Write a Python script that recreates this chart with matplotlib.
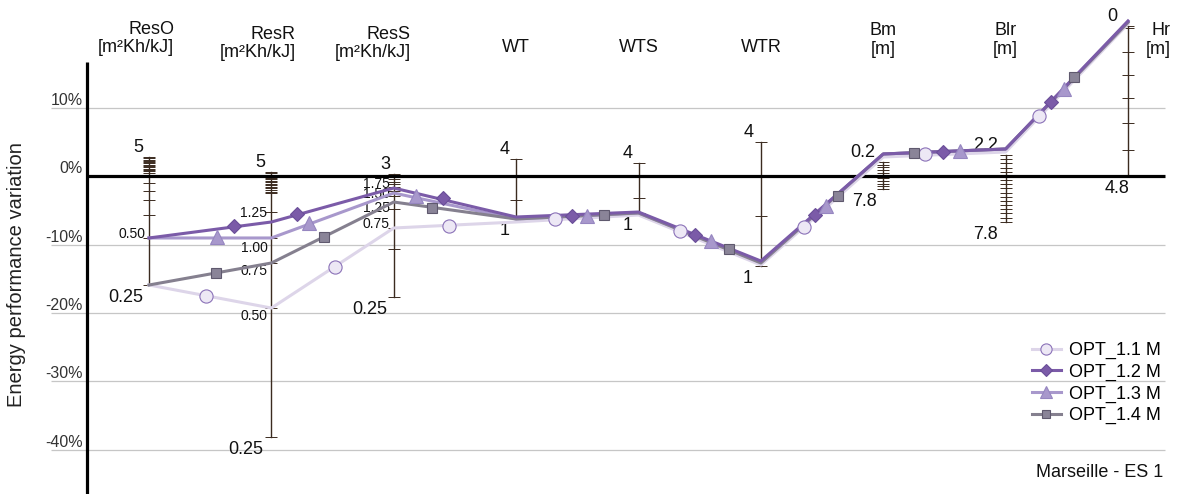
import numpy as np
import matplotlib.pyplot as plt
from matplotlib.lines import Line2D

plt.rcParams['font.family'] = ['Liberation Sans', 'DejaVu Sans']

# one vertical axis per parameter
params = ['ResO', 'ResR', 'ResS', 'WT', 'WTS', 'WTR', 'Bm', 'Blr', 'Hr']
units = ['[m²Kh/kJ]', '[m²Kh/kJ]', '[m²Kh/kJ]', '', '', '', '[m]', '[m]', '[m]']
top_lbl = ['5', '5', '3', '4', '4', '4', '0.2', '2.2', '0']
bot_lbl = ['0.25', '0.25', '0.25', '1', '1', '1', '7.8', '7.8', '4.8']

# tick positions on the parameter axes (energy performance variation, %)
ticks_reso = [2.81, 2.62, 2.43, 2.24, 2.05, 1.86, 1.67, 1.48, 1.29, 1.10, 0.91, 0.72, 0.53,
              0.18, -0.99, -2.16, -3.48, -5.68, -9.0, -15.92]
ticks_resr = [0.61, 0.40, 0.18, -0.04, -0.26, -0.48, -0.70, -0.92, -1.14, -1.36, -1.58, -1.80,
              -2.02, -2.24, -2.46, -5.24, -9.04, -12.70, -19.29, -38.16]
ticks_ress = [0.32, -0.04, -0.41, -0.78, -1.14, -1.58, -2.17, -2.90, -4.80, -7.58, -10.65, -17.68]
ticks_wt = [2.52, -3.48, -6.1]
ticks_wts = [1.93, -3.19, -5.38]
ticks_wtr = [5.0, -5.82, -13.14]
ticks_bm = [2.08, 1.68, 1.29, 0.89, 0.50, 0.10, -0.29, -0.69, -1.08, -1.48, -1.87]
ticks_blr = [3.10, 2.49, 1.89, 1.27, 0.66, 0.04, -0.56, -1.17, -1.79, -2.39, -3.00, -3.61,
             -4.21, -4.83, -5.44, -6.06, -6.66]
ticks_hr = [22.0, 21.69, 18.17, 14.81, 11.44, 7.78, 3.83, 0.0]
param_ticks = [ticks_reso, ticks_resr, ticks_ress, ticks_wt, ticks_wts, ticks_wtr,
               ticks_bm, ticks_blr, ticks_hr]

# intermediate value labels on the resistance axes
mid_reso = [('0.50', -8.46)]
mid_resr = [('1.25', -5.38), ('1.00', -10.51), ('0.75', -13.87), ('0.50', -20.46)]
mid_ress = [('1.75', -1.14), ('1.50', -2.60), ('1.25', -4.65), ('0.75', -6.99)]
mid_lbls = [mid_reso, mid_resr, mid_ress]

# series values at each parameter axis
series_names = ['OPT_1.1 M', 'OPT_1.2 M', 'OPT_1.3 M', 'OPT_1.4 M']
opt11 = [-15.92, -19.29, -7.58, -6.70, -5.68, -12.99, 2.81, 3.54, 22.27]
opt12 = [-9.04, -6.70, -1.73, -5.97, -5.24, -12.41, 3.25, 3.98, 22.71]
opt13 = [-9.04, -9.04, -2.46, -6.26, -5.38, -12.55, 3.25, 3.98, 22.60]
opt14 = [-15.92, -12.70, -3.78, -6.26, -5.38, -12.70, 3.25, 3.98, 22.50]
series_vals = [opt11, opt12, opt13, opt14]

# marker positions along each curve (x in parameter-axis units)
opt11_mx = [0.466, 1.520, 2.452, 3.318, 4.340, 5.353, 6.342, 7.274]
opt11_my = [-17.53, -13.29, -7.3, -6.3, -8.0, -7.43, 3.2, 8.81]
opt12_mx = [0.695, 1.209, 2.402, 3.457, 4.462, 5.442, 6.488, 7.371]
opt12_my = [-7.35, -5.55, -3.2, -5.8, -8.58, -5.7, 3.58, 10.8]
opt13_mx = [0.556, 1.307, 2.182, 3.579, 4.592, 5.532, 6.627, 7.477]
opt13_my = [-8.95, -6.9, -2.95, -5.8, -9.55, -4.3, 3.75, 12.8]
opt14_mx = [0.547, 1.430, 2.313, 3.718, 4.740, 5.630, 6.251, 7.559]
opt14_my = [-14.1, -8.95, -4.6, -5.7, -10.65, -2.85, 3.4, 14.5]
marker_x = [opt11_mx, opt12_mx, opt13_mx, opt14_mx]
marker_y = [opt11_my, opt12_my, opt13_my, opt14_my]

line_cols = ['#ddd5e9', '#7b5ba8', '#a898cc', '#85808f']
face_cols = ['#ede8f5', '#7b5ba8', '#a898cc', '#8a8498']
edge_cols = ['#8b72b8', '#6a4e98', '#9686c0', '#5f596e']
markers = ['o', 'D', '^', 's']
msizes = [9.5, 7.0, 10, 7.5]
zorders = [5, 8, 6, 7]
axis_col = '#3b2b20'

fig = plt.figure(figsize=(11.78, 4.94), dpi=100)
ax = fig.add_axes([0, 0, 1, 1])
# axes fill the figure: ~122.4 px per parameter, ~6.83 px per %
ax.set_xlim(-1.2176, 8.4086)
ax.set_ylim(-46.5, 25.78)
ax.axis('off')

# value axis
ax.hlines([10, -10, -20, -30, -40], -0.80, 8.30, color='#c6c6c6', lw=0.9, zorder=1)
ax.hlines(0, -0.507, 8.30, color='black', lw=2.3, zorder=4)
ax.plot([-0.507, -0.507], [16.7, -46.5], color='black', lw=2.3, zorder=4, solid_capstyle='butt')
for v in [10, 0, -10, -20, -30, -40]:
    ax.annotate(f'{v}%', (-0.54, v), xytext=(0, 0), textcoords='offset pixels',
                ha='right', va='bottom', fontsize=11.5, color='#333333')
ax.text(-1.08, -14.4, 'Energy performance variation', rotation=90, ha='center', va='center',
        fontsize=14.5, color='#222222')

# parameter axes
header_dx = [25, 24, 17, 0, 0, 0, 0, 0, 43]
header_ha = ['right', 'right', 'right', 'center', 'center', 'center', 'center', 'center', 'right']
header_y = [37.5, 42.5, 42.5, 47, 47, 47, 39, 39, 39]
top_dx = [-6, -6, -3, -7, -6, -7, -8, -8, -11]
bot_dx = [-6, -8, -7, -7, -6, -8, -6, -8, 2]
for i, tk in enumerate(param_ticks):
    ax.plot([i, i], [min(tk), max(tk)], color=axis_col, lw=1.0, zorder=3)
    ax.plot([i] * len(tk), tk, ls='none', marker='_', ms=8.6, mew=0.7, color=axis_col, zorder=3)
    ax.annotate(top_lbl[i], (i, max(tk)), xytext=(top_dx[i], 1), textcoords='offset pixels',
                ha='right', va='bottom', fontsize=13, color='#111111')
    ax.annotate(bot_lbl[i], (i, min(tk)), xytext=(bot_dx[i], -4), textcoords='offset pixels',
                ha='right', va='top', fontsize=13, color='#111111')
    head = params[i] if units[i] == '' else params[i] + '\n' + units[i]
    ax.annotate(head, (i, 1 - header_y[i] / 494), xycoords=ax.get_xaxis_transform(),
                xytext=(header_dx[i], -1), textcoords='offset pixels',
                ha=header_ha[i], va='center', multialignment=header_ha[i],
                fontsize=13, linespacing=1.1, color='#111111')

for i, lbls in enumerate(mid_lbls):
    for txt, v in lbls:
        ax.annotate(txt, (i, v), xytext=(-4, 0), textcoords='offset pixels',
                    ha='right', va='center', fontsize=10, color='#111111')

# series
handles = []
for k in range(4):
    ax.plot(range(len(params)), series_vals[k], color=line_cols[k], lw=2.2,
            zorder=zorders[k], solid_joinstyle='round')
    ax.plot(marker_x[k], marker_y[k], ls='none', marker=markers[k], ms=msizes[k],
            mfc=face_cols[k], mec=edge_cols[k], mew=0.8, zorder=10 + k)
    handles.append(Line2D([], [], color=line_cols[k], lw=2.2, marker=markers[k],
                          ms=msizes[k] * 0.85, mfc=face_cols[k], mec=edge_cols[k], mew=0.8,
                          label=series_names[k]))

ax.legend(handles=handles, loc='upper left', bbox_to_anchor=(1032 / 1178, 1 - 342 / 494),
          frameon=False, fontsize=13, handlelength=1.6, handletextpad=0.45,
          labelspacing=0.25, borderpad=0, borderaxespad=0)

ax.text(8.285, -43.3, 'Marseille - ES 1', ha='right', va='center', fontsize=13, color='#111111')

fig.savefig('out.png', dpi=100)
